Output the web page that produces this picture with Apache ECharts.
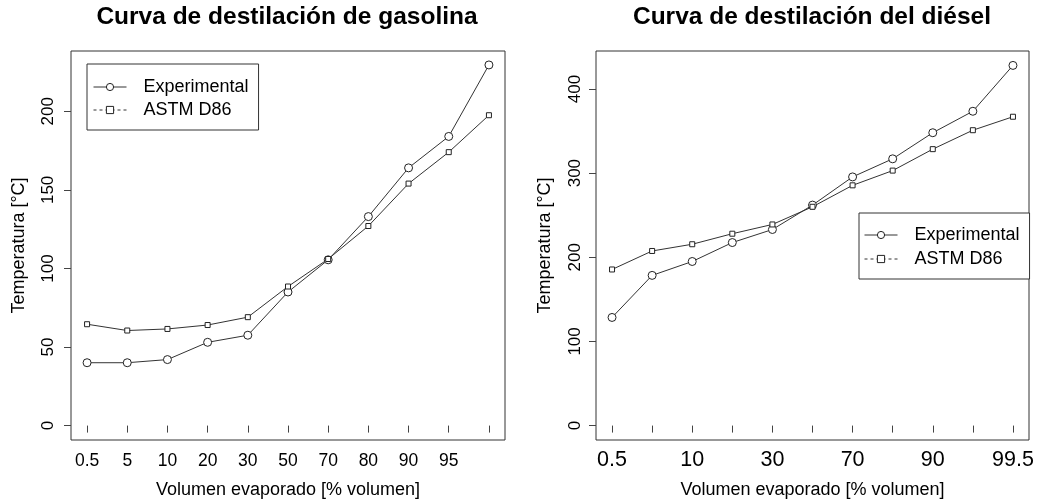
<!DOCTYPE html>
<html>
<head>
<meta charset="utf-8">
<script src="https://cdn.jsdelivr.net/npm/echarts@6/dist/echarts.min.js"></script>
<style>html,body{margin:0;padding:0;background:#fff;}#c{width:1037px;height:504px;}</style>
</head>
<body>
<div id="c"></div>
<script>
// Categories (% volume evaporated)
var categories = ['0.5','5','10','20','30','50','70','80','90','95','99.5'];
// Gasolina
var gasTickLabels = ['0.5','5','10','20','30','50','70','80','90','95',''];
var gasExperimental = [40, 40, 42, 53, 57.5, 85, 105.5, 133, 164, 184, 229.5];
var gasASTM = [64.5, 60.5, 61.5, 64, 69, 88.5, 106, 127, 154, 174, 197.5];
// Diésel
var dieTickLabels = ['0.5','','10','','30','','70','','90','','99.5'];
var dieExperimental = [128.5, 178.5, 195, 217.5, 233, 262, 295.5, 317, 348, 373.5, 428];
var dieASTM = [185.5, 207.5, 215.5, 228, 239, 260, 285.5, 303, 328.5, 351, 367];
var gasYTicks = [0, 50, 100, 150, 200];
var dieYTicks = [0, 100, 200, 300, 400];

function pts(arr){ return arr.map(function(v,i){ return [i+1, v]; }); }
var xPos = categories.map(function(c,i){ return i+1; });

var font = 'Liberation Sans, Arial, sans-serif';
var lineCol = '#333';

function xAxis(gi, labels, fs, margin){
  return {
    type:'value', gridIndex:gi, min:0.6, max:11.4,
    axisLine:{show:false},
    splitLine:{show:false},
    axisTick:{show:true, length:7, inside:false, customValues:xPos, lineStyle:{color:'#444'}},
    axisLabel:{show:true, customValues:xPos, margin:margin, fontFamily:font, fontSize:fs, color:'#000',
      formatter:function(v){ return labels[Math.round(v)-1] || ''; }},
    name:'Volumen evaporado [% volumen]', nameLocation:'middle', nameGap:41,
    nameTextStyle:{fontFamily:font, fontSize:18, color:'#000'}
  };
}
function yAxis(gi, ticks, mn, mx, margin, gap){
  return {
    type:'value', gridIndex:gi, min:mn, max:mx,
    axisLine:{show:false},
    splitLine:{show:false},
    axisTick:{show:true, length:7, inside:false, customValues:ticks, lineStyle:{color:'#444'}},
    axisLabel:{show:true, customValues:ticks, rotate:90, margin:margin, fontFamily:font, fontSize:17, color:'#000'},
    name:'Temperatura [°C]', nameLocation:'middle', nameGap:gap, nameRotate:90,
    nameTextStyle:{fontFamily:font, fontSize:18, color:'#000'}
  };
}
function ser(name, data, xi, sym, size){
  return {
    name:name, type:'line', xAxisIndex:xi, yAxisIndex:xi, data:pts(data),
    symbol:sym, symbolSize:size, showSymbol:true, showAllSymbol:true,
    lineStyle:{color:lineCol, width:1},
    itemStyle:{color:'#fff', borderColor:'#222', borderWidth:1},
    emphasis:{disabled:true}, animation:false
  };
}
function legend(left, top, pad, gap){
  return {
    show:true, orient:'vertical', left:left, top:top,
    padding:pad, itemGap:gap, itemWidth:33, itemHeight:9,
    borderColor:'#333', borderWidth:1, backgroundColor:'#fff',
    selectedMode:false,
    lineStyle:{width:1, color:'#333'},
    itemStyle:{color:'#fff', borderColor:'#222', borderWidth:1},
    textStyle:{fontFamily:font, fontSize:18, color:'#000', lineHeight:20, padding:[0,0,0,12]},
    data:[{name:'Experimental'}, {name:'ASTM D86', lineStyle:{type:[3,3], width:1}}]
  };
}

var chart = echarts.init(document.getElementById('c'), null, {renderer:'canvas'});
chart.setOption({
  animation:false,
  backgroundColor:'#fff',
  title:[
    {text:'Curva de destilación de gasolina', left:287, top:5, textAlign:'center', padding:0,
     textStyle:{fontFamily:font, fontSize:24.5, fontWeight:'bold', color:'#000'}},
    {text:'Curva de destilación del diésel', left:812, top:5, textAlign:'center', padding:0,
     textStyle:{fontFamily:font, fontSize:24.5, fontWeight:'bold', color:'#000'}}
  ],
  grid:[
    {left:71, top:51, width:434, height:391, show:true, borderColor:'#333', borderWidth:1, backgroundColor:'transparent'},
    {left:596, top:51, width:433, height:391, show:true, borderColor:'#333', borderWidth:1, backgroundColor:'transparent'}
  ],
  xAxis:[ xAxis(0, gasTickLabels, 17.5, 12), xAxis(1, dieTickLabels, 21.5, 9) ],
  yAxis:[ yAxis(0, gasYTicks, -9.17, 238.37, 14, 43), yAxis(1, dieYTicks, -17.12, 445.12, 12, 42) ],
  legend:[ legend(87, 64, [13,10,10,6], 3), legend(859, 213, [12,10,10,5], 4) ],
  series:[
    ser('Experimental', gasExperimental, 0, 'circle', 8),
    ser('ASTM D86', gasASTM, 0, 'rect', 5),
    ser('Experimental', dieExperimental, 1, 'circle', 8),
    ser('ASTM D86', dieASTM, 1, 'rect', 5)
  ]
});
</script>
</body>
</html>
